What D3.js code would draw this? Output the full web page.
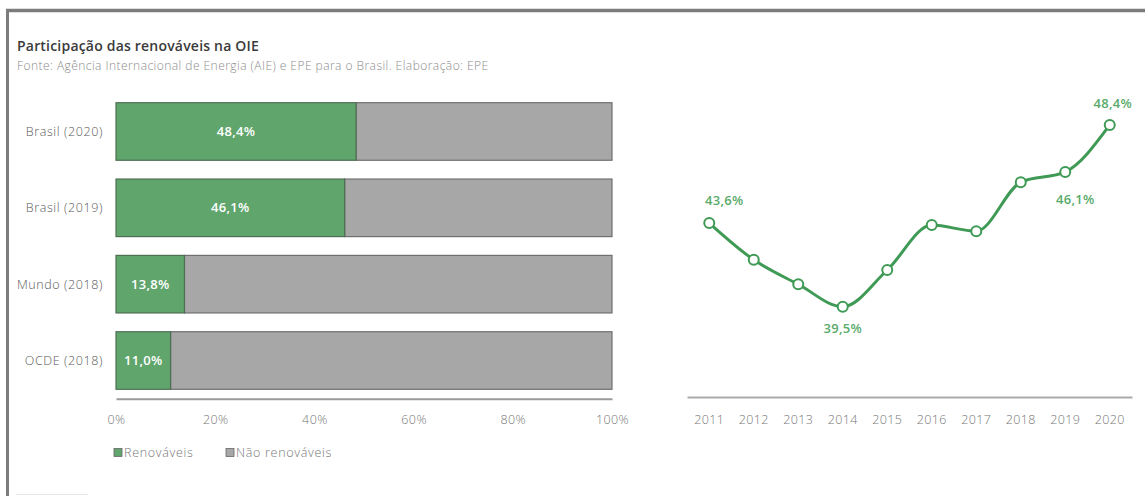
<!DOCTYPE html>
<html>
<head>
<meta charset="utf-8">
<script src="https://cdn.jsdelivr.net/npm/d3@7"></script>
<style>
  html, body { margin: 0; padding: 0; background: #fff; }
  svg { display: block; font-family: "Open Sans", "Noto Sans", sans-serif; }
</style>
</head>
<body>
<svg id="chart" width="1145" height="496"></svg>
<script>
// Share of renewables in the domestic energy supply
const regions = ["Brasil (2020)", "Brasil (2019)", "Mundo (2018)", "OCDE (2018)"];
const renewableShare = [48.4, 46.1, 13.8, 11.0];
const shareTicks = [0, 20, 40, 60, 80, 100];

const years = ["2011", "2012", "2013", "2014", "2015", "2016", "2017", "2018", "2019", "2020"];
const brazilShare = [43.6, 41.8, 40.6, 39.5, 41.3, 43.5, 43.2, 45.6, 46.1, 48.4];
const labelledYears = ["2011", "2014", "2019", "2020"];

const legendItems = ["Renováveis", "Não renováveis"];

const GREEN = "#60a56c";
const GRAY = "#a7a7a7";
const LINE_GREEN = "#3f9a55";
const LABEL_GREEN = "#5aab6b";
const FONT = "'Open Sans', sans-serif";
const fmt = v => v.toFixed(1).replace(".", ",") + "%";

const svg = d3.select("#chart");
svg.append("rect").attr("width", 1145).attr("height", 496).attr("fill", "#fff");

// Frame (top and left edges)
svg.append("line").attr("x1", 6).attr("x2", 1145).attr("y1", 10.5).attr("y2", 10.5)
  .attr("stroke", "#7c7c7c").attr("stroke-width", 3.5);
svg.append("line").attr("x1", 7.5).attr("x2", 7.5).attr("y1", 9).attr("y2", 496)
  .attr("stroke", "#7c7c7c").attr("stroke-width", 3);
svg.append("line").attr("x1", 16).attr("x2", 88).attr("y1", 494.5).attr("y2", 494.5)
  .attr("stroke", "#e6e6e6").attr("stroke-width", 1);

// Titles
svg.append("text").attr("x", 17).attr("y", 50.5)
  .attr("font-size", 14).attr("font-weight", 600).attr("fill", "#3a3a3a")
  .attr("letter-spacing", 0.2)
  .text("Participação das renováveis na OIE");
svg.append("text").attr("x", 17).attr("y", 70)
  .attr("font-size", 12).attr("font-weight", 300).attr("fill", "#8c8c8c")
  .attr("letter-spacing", 0.45)
  .text("Fonte: Agência Internacional de Energia (AIE) e EPE para o Brasil. Elaboração: EPE");

// ---- Stacked 100% bars ----
const x = d3.scaleLinear().domain([0, 100]).range([116, 612]);
const y = d3.scaleBand().domain(regions).range([102.7, 389.3]).paddingInner(0.246).paddingOuter(0);

const bars = svg.append("g");
regions.forEach((r, i) => {
  const v = renewableShare[i];
  bars.append("rect")
    .attr("x", x(v)).attr("y", y(r))
    .attr("width", x(100) - x(v)).attr("height", y.bandwidth())
    .attr("fill", GRAY).attr("stroke", "#6f6f6f").attr("stroke-width", 1.2);
  bars.append("rect")
    .attr("x", x(0)).attr("y", y(r))
    .attr("width", x(v) - x(0)).attr("height", y.bandwidth())
    .attr("fill", GREEN).attr("stroke", "#4d6f52").attr("stroke-width", 1.2);
  bars.append("text")
    .attr("x", (x(0) + x(v)) / 2).attr("y", y(r) + y.bandwidth() / 2)
    .attr("dy", "0.35em").attr("text-anchor", "middle")
    .attr("font-size", 13).attr("font-weight", 600).attr("fill", "#fff")
    .attr("letter-spacing", 0.3)
    .text(fmt(v));
  bars.append("text")
    .attr("x", 103).attr("y", y(r) + y.bandwidth() / 2)
    .attr("dy", "0.35em").attr("text-anchor", "end")
    .attr("font-size", 12.5).attr("font-weight", 300).attr("fill", "#5a5a5a")
    .attr("letter-spacing", 0.6)
    .text(r);
});

const xAxis = svg.append("g").attr("transform", "translate(0,398.7)")
  .call(d3.axisBottom(x).tickValues(shareTicks).tickFormat(d => d + "%").tickSize(0).tickPadding(16));
xAxis.select(".domain").attr("stroke", "#9a9a9a").attr("stroke-width", 2);
xAxis.selectAll("text").attr("font-size", 12.5).attr("font-weight", 300).attr("fill", "#777")
  .attr("font-family", FONT).attr("letter-spacing", 0.4);

// Legend
const legend = svg.append("g").attr("transform", "translate(114,453)");
const legendX = [0, 112];
legendItems.forEach((name, i) => {
  const g = legend.append("g").attr("transform", `translate(${legendX[i]},0)`);
  g.append("rect").attr("x", 0).attr("y", -4.5).attr("width", 8).attr("height", 8)
    .attr("fill", i === 0 ? GREEN : GRAY).attr("stroke", "#666").attr("stroke-width", 0.8);
  g.append("text").attr("x", 10).attr("y", 0).attr("dy", "0.35em")
    .attr("font-size", 12.5).attr("font-weight", 300).attr("fill", "#777")
    .attr("letter-spacing", 0.7)
    .text(name);
});

// ---- Brazil line chart ----
const xl = d3.scaleBand().domain(years).range([687, 1132]);
const cx = d => xl(d) + xl.bandwidth() / 2;
const yl = d3.scaleLinear().domain([38, 50]).range([337.4, 92.3]);

const yearAxis = svg.append("g").attr("transform", "translate(0,397)")
  .call(d3.axisBottom(xl).tickSize(0).tickPadding(18));
yearAxis.select(".domain").attr("stroke", "#aaa").attr("stroke-width", 2);
yearAxis.selectAll("text").attr("font-size", 12.5).attr("font-weight", 300).attr("fill", "#777")
  .attr("font-family", FONT).attr("letter-spacing", 0.4);

const pts = years.map((yr, i) => ({ yr, v: brazilShare[i] }));
svg.append("path").datum(pts)
  .attr("d", d3.line().x(d => cx(d.yr)).y(d => yl(d.v)).curve(d3.curveMonotoneX))
  .attr("fill", "none").attr("stroke", LINE_GREEN).attr("stroke-width", 3);

svg.append("g").selectAll("circle").data(pts).join("circle")
  .attr("cx", d => cx(d.yr)).attr("cy", d => yl(d.v)).attr("r", 5)
  .attr("fill", "#fff").attr("stroke", LINE_GREEN).attr("stroke-width", 2);

// Value labels: above or below the point
const labelPos = { "2011": [15, -23], "2014": [0, 22], "2019": [10, 27], "2020": [3, -22] };
svg.append("g").selectAll("text").data(pts.filter(d => labelledYears.includes(d.yr))).join("text")
  .attr("x", d => cx(d.yr) + labelPos[d.yr][0])
  .attr("y", d => yl(d.v) + labelPos[d.yr][1])
  .attr("dy", "0.35em").attr("text-anchor", "middle")
  .attr("font-size", 13).attr("font-weight", 600).attr("fill", LABEL_GREEN)
  .attr("letter-spacing", 0.3)
  .text(d => fmt(d.v));
</script>
</body>
</html>
